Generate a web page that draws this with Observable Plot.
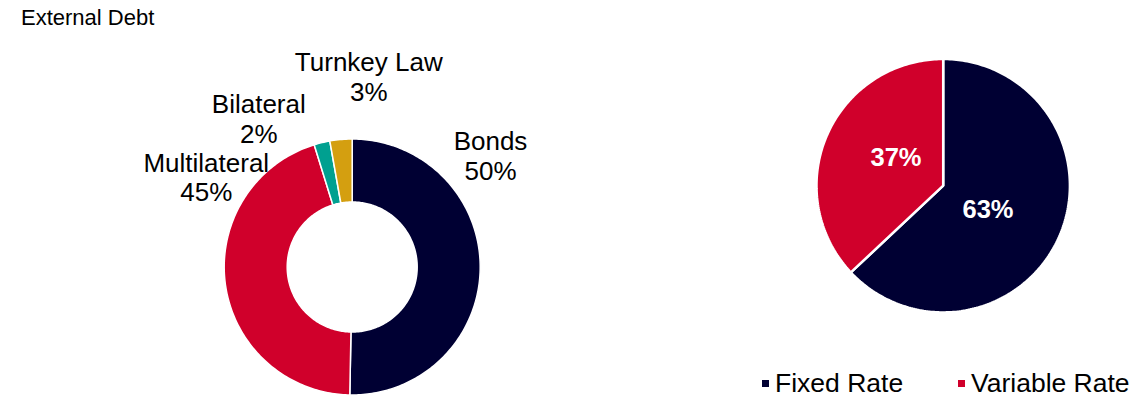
<!DOCTYPE html>
<html>
<head>
<meta charset="utf-8">
<script src="https://cdn.jsdelivr.net/npm/d3@7"></script>
<script src="https://cdn.jsdelivr.net/npm/@observablehq/plot@0.6"></script>
<style>
  html, body { margin: 0; padding: 0; background: #fff; }
  body { font-family: "Liberation Sans", Arial, sans-serif; }
  #wrap { position: relative; width: 1139px; height: 398px; overflow: hidden; }
  #title { position: absolute; left: 21px; top: 7px; font-size: 22px; line-height: 22px; color: #000; white-space: nowrap; }
  #chart { position: absolute; left: 0; top: 30px; }
  .leg { position: absolute; top: 370px; font-size: 26.5px; line-height: 26.5px; color: #000; white-space: nowrap; }
  .sw { display: inline-block; width: 7px; height: 7px; margin-right: 6px; vertical-align: 5px; }
</style>
</head>
<body>
<div id="wrap">
  <div id="title">External Debt</div>
  <div id="chart"></div>
  <div id="legend"></div>
</div>
<script>
// ---- data ----
const donutCategories = ["Bonds", "Multilateral", "Bilateral", "Turnkey Law"];
const donutValues = [50.3, 44.9, 2.0, 2.8];
const pieCategories = ["Fixed Rate", "Variable Rate"];
const pieValues = [63, 37];

// ---- styles ----
const donutColors = ["#000033", "#D0002B", "#00A090", "#D49F10"];
const pieColors = ["#000033", "#D0002B"];

// ---- layout (page pixels) ----
const W = 1139, H = 368, TOP = 30, PX = 128;
const donutC = {x: 351.7, y: 266.5}, donutR = 128, donutInner = 65;
const pieC = {x: 942.7, y: 185.2}, pieR = 126.7;
const toX = px => (px - donutC.x) / PX;
const toY = py => (donutC.y - py) / PX;

// label anchors (page px)
const donutLabelPos = [[490, 154.7], [205.8, 176.4], [258.3, 118.1], [368.3, 76.1]];
const pieLabelPos = [[987.5, 209.5], [895.5, 157.5]];

function slices(values, cats, center, rOuter, rInner) {
  const total = d3.sum(values);
  const cx = toX(center.x), cy = toY(center.y);
  const ro = rOuter / PX, ri = rInner / PX;
  const pts = [];
  let acc = 0;
  values.forEach((v, i) => {
    const a0 = acc / total * 2 * Math.PI;
    acc += v;
    const a1 = acc / total * 2 * Math.PI;
    const n = Math.max(3, Math.ceil((a1 - a0) / (2 * Math.PI) * 360));
    const key = cats[i];
    const poly = [];
    for (let k = 0; k <= n; k++) {
      const a = a0 + (a1 - a0) * k / n;
      poly.push({key, x: cx + ro * Math.sin(a), y: cy + ro * Math.cos(a)});
    }
    if (ri > 0) {
      for (let k = n; k >= 0; k--) {
        const a = a0 + (a1 - a0) * k / n;
        poly.push({key, x: cx + ri * Math.sin(a), y: cy + ri * Math.cos(a)});
      }
    } else {
      poly.push({key, x: cx, y: cy});
    }
    poly.push({...poly[0]});
    pts.push(...poly);
  });
  return pts;
}

const donutPts = slices(donutValues, donutCategories, donutC, donutR, donutInner);
const piePts = slices(pieValues, pieCategories, pieC, pieR, 0);

const donutTotal = d3.sum(donutValues);
const donutLabels = donutCategories.map((c, i) => ({
  text: `${c}\n${Math.round(donutValues[i] / donutTotal * 100)}%`,
  x: toX(donutLabelPos[i][0]), y: toY(donutLabelPos[i][1])
}));
const pieTotal = d3.sum(pieValues);
const pieLabels = pieCategories.map((c, i) => ({
  text: `${Math.round(pieValues[i] / pieTotal * 100)}%`,
  x: toX(pieLabelPos[i][0]), y: toY(pieLabelPos[i][1])
}));

const chart = Plot.plot({
  width: W, height: H,
  margin: 0,
  style: {fontFamily: '"Liberation Sans", Arial, sans-serif', background: "transparent"},
  x: {domain: [toX(0), toX(W)], range: [0, W], axis: null},
  y: {domain: [toY(TOP + H), toY(TOP)], range: [H, 0], axis: null},
  color: {domain: [...donutCategories, ...pieCategories], range: [...donutColors, ...pieColors]},
  marks: [
    Plot.line(donutPts, {x: "x", y: "y", z: "key", fill: "key", stroke: "white", strokeWidth: 1.5, curve: "linear"}),
    Plot.line(piePts, {x: "x", y: "y", z: "key", fill: "key", stroke: "white", strokeWidth: 2.5, strokeLinejoin: "miter", curve: "linear"}),
    Plot.text(donutLabels, {x: "x", y: "y", text: "text", fontSize: 26, lineHeight: 1.154, fill: "#000", textAnchor: "middle"}),
    Plot.text(pieLabels, {x: "x", y: "y", text: "text", fontSize: 25.5, fontWeight: "bold", fill: "white", textAnchor: "middle"})
  ]
});
document.getElementById("chart").appendChild(chart);

// legend
const legendLeft = [762, 958];
const legend = document.getElementById("legend");
pieCategories.forEach((c, i) => {
  const d = document.createElement("div");
  d.className = "leg";
  d.style.left = legendLeft[i] + "px";
  const s = document.createElement("span");
  s.className = "sw";
  s.style.background = pieColors[i];
  d.appendChild(s);
  d.appendChild(document.createTextNode(c));
  legend.appendChild(d);
});
</script>
</body>
</html>
